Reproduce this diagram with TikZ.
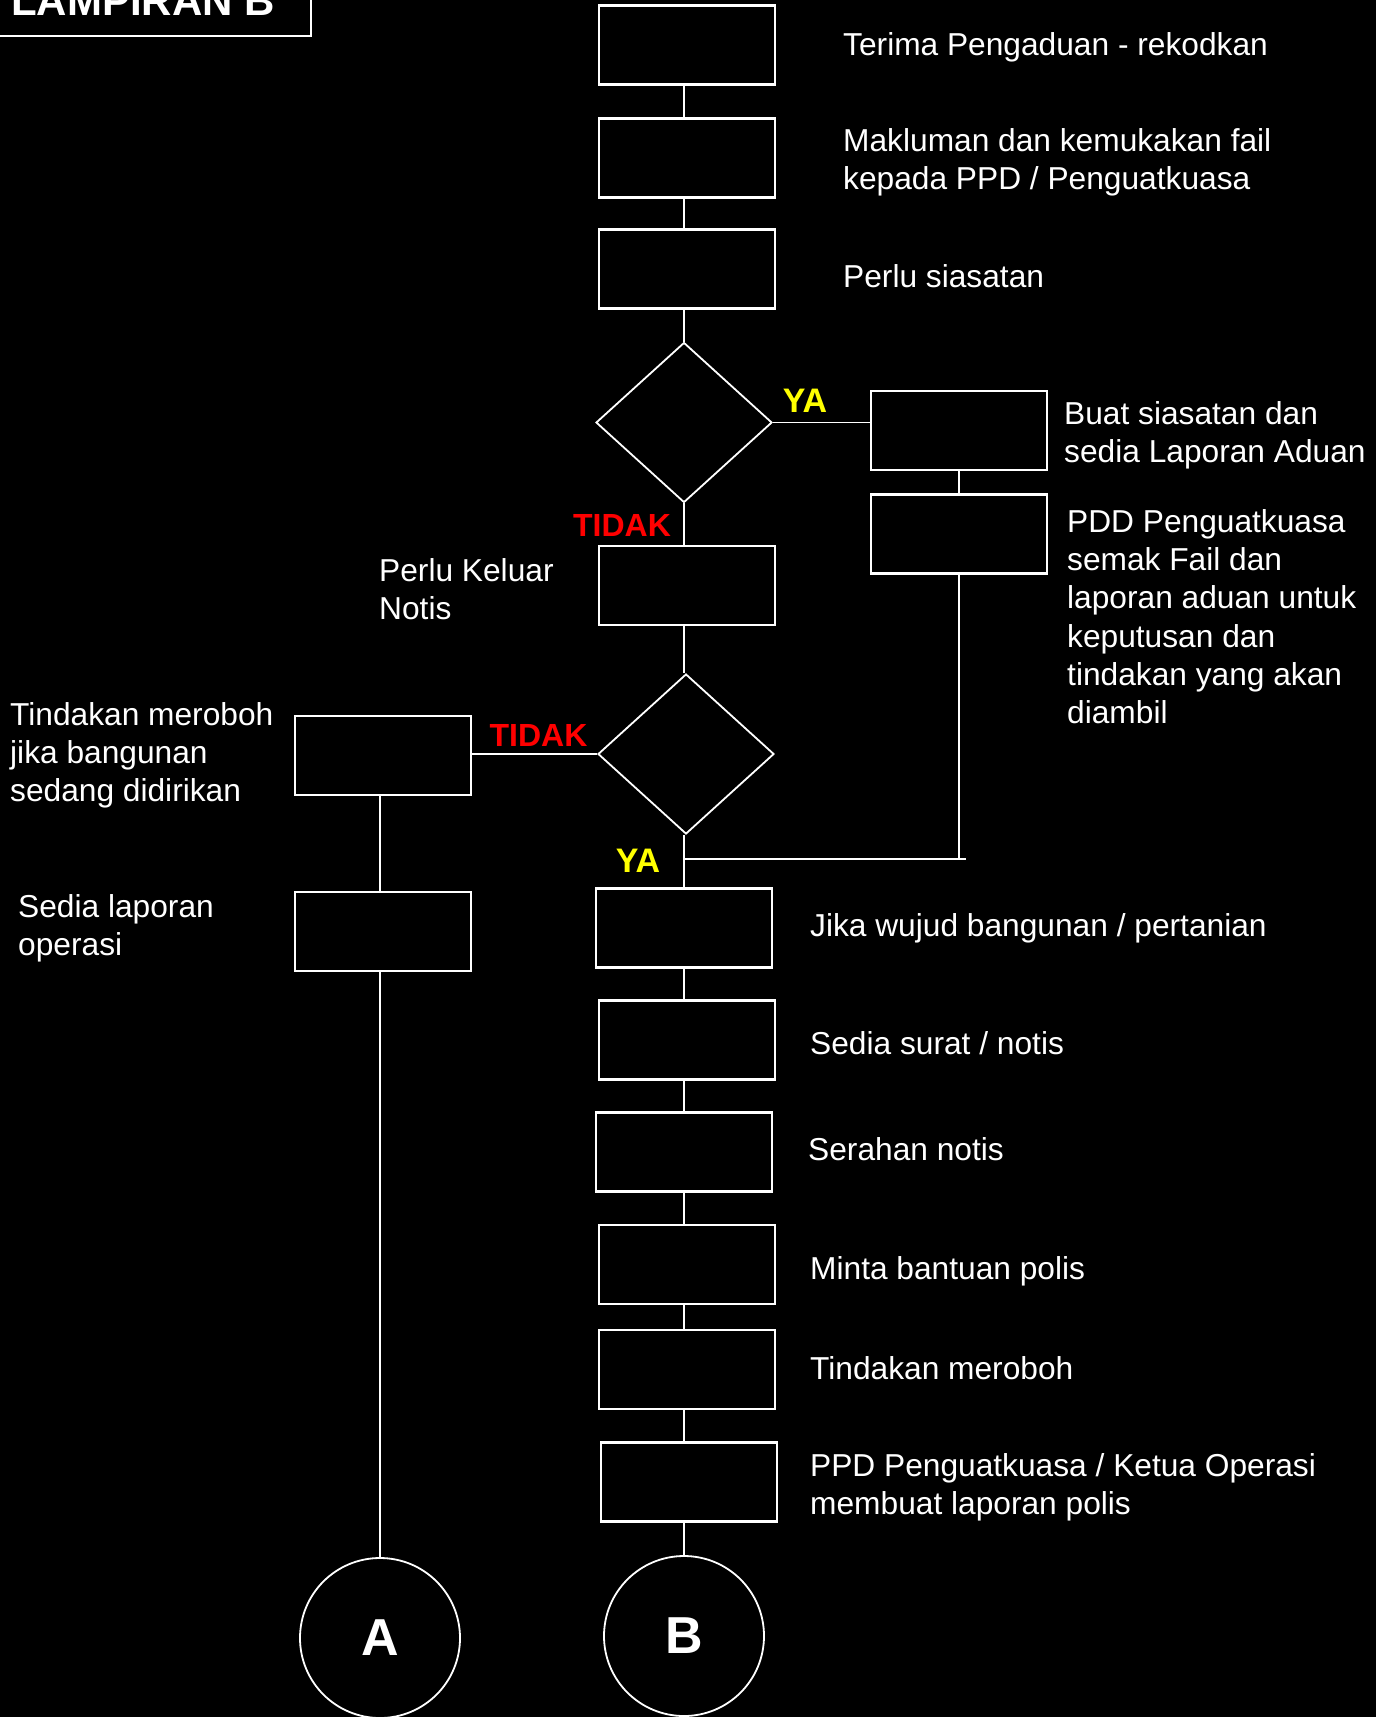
\documentclass[tikz,border=0pt]{standalone}
\usepackage{fontspec}
\setmainfont{Liberation Sans}
\usetikzlibrary{shapes.geometric}
\definecolor{yacol}{RGB}{255,255,0}
\definecolor{tidakcol}{RGB}{255,0,0}
\begin{document}
\begin{tikzpicture}[x=1pt,y=-1pt,
  every node/.style={inner sep=0pt},
  stepbox/.style={draw=white,line width=2.2pt,fill=black,minimum width=176pt,minimum height=79pt},
  ask/.style={draw=white,line width=1.8pt,diamond,minimum width=176pt,minimum height=160pt},
  endcirc/.style={draw=white,line width=1.8pt,circle,minimum size=160pt,text=white,font=\fontsize{52}{60}\selectfont\bfseries},
  note/.style={anchor=north west,align=left,text=white,font=\fontsize{31.7}{38.3}\selectfont},
  yes/.style={text=yacol,font=\fontsize{34}{40}\selectfont\bfseries},
  no/.style={text=tidakcol,font=\fontsize{32}{38}\selectfont\bfseries},
  link/.style={draw=white,line width=1.8pt}]
  \fill[black] (0,0) rectangle (1376,1717);
  \useasboundingbox (0,0) rectangle (1376,1717);
  % title box
  \draw[white,line width=2pt] (-10,-10) rectangle (311,36);
  \node[anchor=base west,text=white,font=\fontsize{42}{48}\selectfont\bfseries] (title) at (11,15) {LAMPIRAN B};
  % main column
  \node[stepbox] (b1) at (687,45) {};
  \node[stepbox] (b2) at (687,158) {};
  \node[stepbox] (b3) at (687,269) {};
  \node[ask] (d1) at (684,422.5) {};
  \node[stepbox] (b4) at (959,430.5) {};
  \node[stepbox] (b5) at (959,534) {};
  \node[stepbox] (b6) at (687,585.5) {};
  \node[ask] (d2) at (686,754) {};
  \node[stepbox] (b7) at (383,755.5) {};
  \node[stepbox] (b8) at (383,931.5) {};
  \node[endcirc] (ca) at (380,1638) {A};
  \node[stepbox] (b9) at (684,928) {};
  \node[stepbox] (b10) at (687,1040) {};
  \node[stepbox] (b11) at (684,1152) {};
  \node[stepbox] (b12) at (687,1264.5) {};
  \node[stepbox] (b13) at (687,1369.5) {};
  \node[stepbox] (b14) at (689,1482) {};
  \node[endcirc] (cb) at (684,1636) {B};
  \coordinate (yj) at (684,859);
  \coordinate (yjr) at (966,859);
  % texts
  \node[note] (t1) at (843,32) {Terima Pengaduan - rekodkan};
  \node[note] (t2) at (843,128) {Makluman dan kemukakan fail\\kepada PPD / Penguatkuasa};
  \node[note] (t3) at (843,264) {Perlu siasatan};
  \node[note] (t4) at (1064,401) {Buat siasatan dan\\sedia Laporan Aduan};
  \node[note] (t5) at (1067,509) {PDD Penguatkuasa\\semak Fail dan\\laporan aduan untuk\\keputusan dan\\tindakan yang akan\\diambil};
  \node[note] (t6) at (379,558) {Perlu Keluar\\Notis};
  \node[note] (t7) at (10,702) {Tindakan meroboh\\jika bangunan\\sedang didirikan};
  \node[note] (t8) at (18,894) {Sedia laporan\\operasi};
  \node[note] (t9) at (810,913) {Jika wujud bangunan / pertanian};
  \node[note] (t10) at (810,1031) {Sedia surat / notis};
  \node[note] (t11) at (808,1137) {Serahan notis};
  \node[note] (t12) at (810,1256) {Minta bantuan polis};
  \node[note] (t13) at (810,1356) {Tindakan meroboh};
  \node[note] (t14) at (810,1453) {PPD Penguatkuasa / Ketua Operasi\\membuat laporan polis};
  % labels
  \node[yes] (ya1) at (805,401) {YA};
  \node[no] (tidak1) at (622,525.5) {TIDAK};
  \node[no] (tidak2) at (538.5,735.6) {TIDAK};
  \node[yes] (ya2) at (638,860.5) {YA};
  % connectors along the spine
  \draw[link] (b1.south -| d1) -- (b2.north -| d1);
  \draw[link] (b2.south -| d1) -- (b3.north -| d1);
  \draw[link] (b3.south -| d1) -- (d1);
  \draw[link] (d1.east) -- (d1.east -| b4.west);
  \draw[link] (b4) -- (b5);
  \draw[link] (d1) -- (b6.north -| d1);
  \draw[link] (b6.south -| d1) -- (d2.north -| d1);
  \draw[link] (d2.west) -- (d2.west -| b7.east);
  \draw[link] (b7.south -| ca) -- (b8.north -| ca);
  \draw[link] (b8.south -| ca) -- (ca);
  \draw[link] (b5) -- (b5 |- yjr);
  \draw[link] (yjr) -- (yj);
  \draw[link] (d2.south -| d1) -- (b9.north -| d1);
  \draw[link] (b9.south -| d1) -- (b10.north -| d1);
  \draw[link] (b10.south -| d1) -- (b11.north -| d1);
  \draw[link] (b11.south -| d1) -- (b12.north -| d1);
  \draw[link] (b12.south -| d1) -- (b13.north -| d1);
  \draw[link] (b13.south -| d1) -- (b14.north -| d1);
  \draw[link] (b14.south -| d1) -- (cb);
\end{tikzpicture}
\end{document}
